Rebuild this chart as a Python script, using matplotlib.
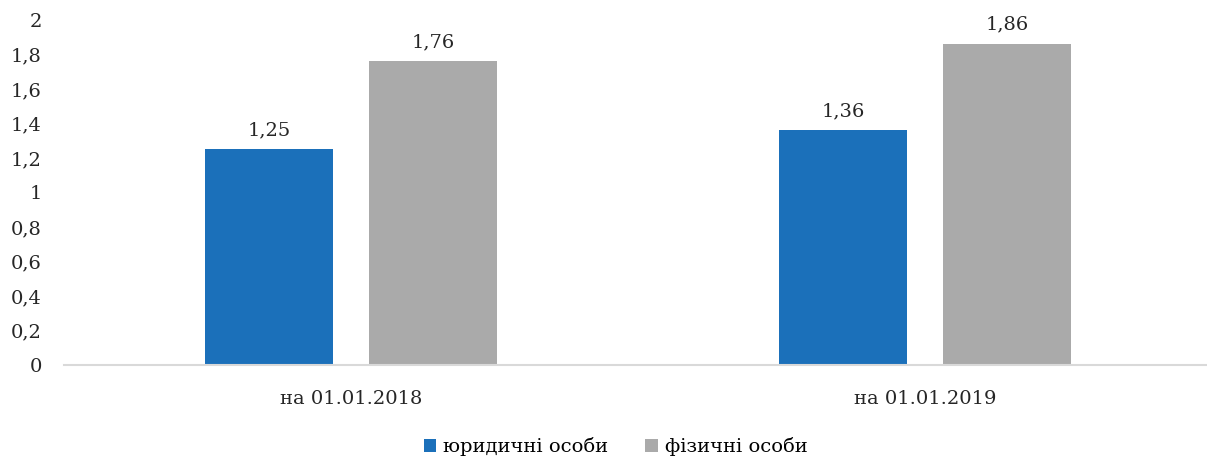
import matplotlib.pyplot as plt
import numpy as np

plt.rcParams['font.family'] = ['DejaVu Serif']

categories = ['на 01.01.2018', 'на 01.01.2019']
legal = [1.25, 1.36]
individual = [1.76, 1.86]
series_names = ['юридичні особи', 'фізичні особи']
yticks = [0, 0.2, 0.4, 0.6, 0.8, 1, 1.2, 1.4, 1.6, 1.8, 2]

blue = '#1B70BA'
grey = '#AAAAAA'

fig = plt.figure(figsize=(12.07, 4.63), dpi=100)
ax = fig.add_axes([64/1207, 1-365/463, (1212-64)/1207, 345/463])

x = np.arange(len(categories))
w = 0.223
off = 0.143
b1 = ax.bar(x - off, legal, w, color=blue, label=series_names[0])
b2 = ax.bar(x + off, individual, w, color=grey, label=series_names[1])

fs = 14
for bars, vals in ((b1, legal), (b2, individual)):
    for r, v in zip(bars, vals):
        ax.annotate(f'{v:.2f}'.replace('.', ','), (r.get_x() + r.get_width()/2, v),
                    xytext=(0, 7.5), textcoords='offset points',
                    ha='center', va='bottom', fontsize=fs, color='#262626')

ax.set_xlim(-0.5, 1.5)
ax.set_ylim(0, 2)
ax.set_yticks(yticks)
ax.set_yticklabels([f'{t:g}'.replace('.', ',') for t in yticks], fontsize=fs, color='#262626')
ax.set_xticks(x)
ax.set_xticklabels(categories, fontsize=fs, color='#262626')
ax.tick_params(axis='both', length=0)
ax.tick_params(axis='y', pad=16)
ax.tick_params(axis='x', pad=18)
for s in ['top', 'right', 'left']:
    ax.spines[s].set_visible(False)
ax.spines['bottom'].set_color('#D9D9D9')
ax.spines['bottom'].set_linewidth(1.5)

fig.legend(loc='center', bbox_to_anchor=(0.51, 1-447/463), ncol=2, frameon=False,
           fontsize=fs, handlelength=0.65, handleheight=0.65, handletextpad=0.35,
           columnspacing=1.9)

fig.savefig('out.png', dpi=100)
